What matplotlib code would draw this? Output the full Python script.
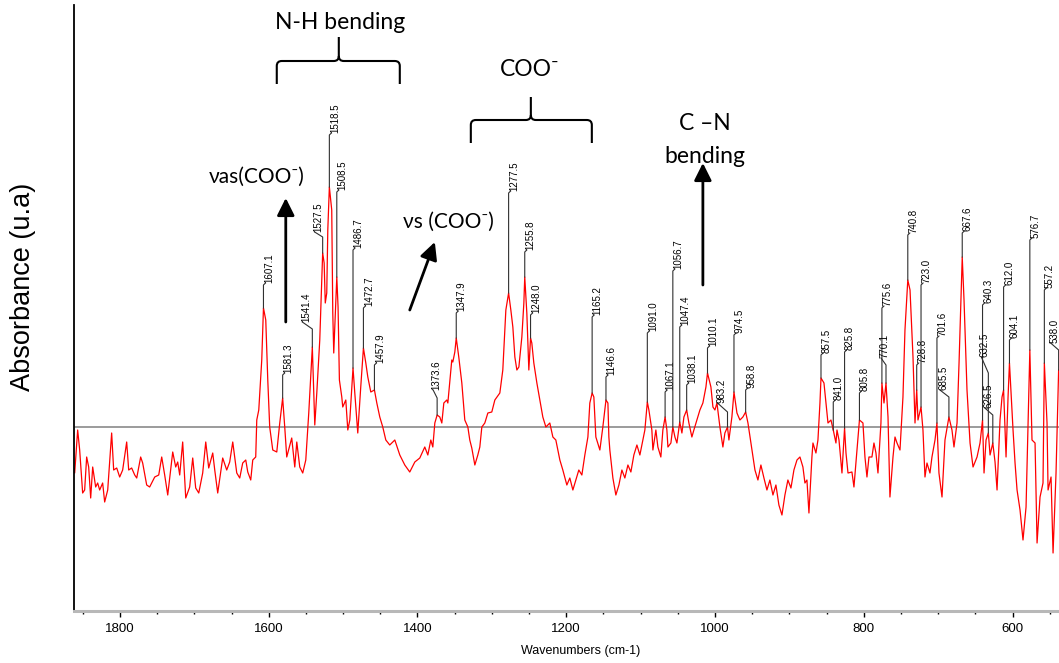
import matplotlib
matplotlib.use("Agg")
import matplotlib.pyplot as plt
import numpy as np
from matplotlib.path import Path
from matplotlib.patches import PathPatch
from matplotlib.ticker import MultipleLocator

plt.rcParams['font.family'] = ['Liberation Sans', 'DejaVu Sans']

# IR spectrum (cm-1, arbitrary absorbance, baseline = 0)
wavenumber = [
    1862.3, 1860.9, 1856.9, 1854.2, 1850.2, 1847.5, 1844.8, 1842.1, 1839.4, 1836.7,
    1832.7, 1830.0, 1827.3, 1823.3, 1820.6, 1816.5, 1811.2, 1808.5, 1804.4, 1800.4,
    1796.4, 1791.0, 1788.3, 1784.3, 1780.2, 1777.5, 1772.2, 1769.5, 1764.1, 1760.1,
    1753.3, 1747.9, 1743.9, 1739.9, 1735.8, 1729.1, 1725.1, 1722.4, 1719.7, 1715.7,
    1711.6, 1706.3, 1702.2, 1698.2, 1694.1, 1688.8, 1684.7, 1680.7, 1675.3, 1672.6,
    1668.6, 1661.9, 1656.5, 1652.5, 1648.4, 1643.0, 1639.0, 1635.0, 1630.9, 1628.2,
    1624.2, 1621.5, 1617.5, 1616.1, 1613.4, 1609.4, 1607.1, 1604.0, 1601.3, 1598.7,
    1594.6, 1589.2, 1585.2, 1581.3, 1578.5, 1575.8, 1569.1, 1565.0, 1562.3, 1558.3,
    1554.3, 1550.2, 1546.2, 1541.4, 1538.1, 1535.4, 1531.4, 1527.5, 1525.5, 1524.0,
    1522.0, 1520.6, 1518.5, 1515.3, 1513.9, 1512.6, 1508.5, 1506.8, 1505.0, 1501.8,
    1500.5, 1496.4, 1493.7, 1491.0, 1486.7, 1484.3, 1480.3, 1476.3, 1472.7, 1469.5,
    1466.8, 1462.8, 1457.9, 1454.7, 1450.7, 1446.7, 1442.6, 1437.3, 1430.5, 1423.8,
    1417.1, 1410.4, 1403.6, 1396.9, 1390.2, 1386.1, 1382.1, 1379.4, 1376.7, 1373.6,
    1370.0, 1367.3, 1364.6, 1360.6, 1359.2, 1353.9, 1352.5, 1349.8, 1347.9, 1344.5,
    1340.4, 1336.4, 1332.3, 1329.7, 1327.0, 1322.9, 1318.9, 1316.2, 1313.5, 1309.5,
    1305.4, 1300.1, 1296.0, 1289.3, 1285.3, 1281.2, 1277.5, 1274.5, 1271.8, 1269.1,
    1266.4, 1263.7, 1259.7, 1257.0, 1255.8, 1253.0, 1250.3, 1248.0, 1246.3, 1243.6,
    1239.5, 1235.5, 1231.5, 1227.4, 1222.1, 1218.0, 1214.0, 1211.3, 1208.6, 1204.6,
    1199.2, 1195.2, 1191.1, 1187.1, 1183.1, 1179.0, 1175.0, 1170.9, 1168.3, 1165.2,
    1162.9, 1160.2, 1154.8, 1150.8, 1146.6, 1144.0, 1142.7, 1141.4, 1137.3, 1133.3,
    1129.2, 1125.2, 1121.2, 1117.1, 1113.1, 1109.1, 1105.0, 1101.0, 1097.0, 1094.3,
    1091.0, 1088.9, 1084.9, 1083.5, 1079.5, 1076.8, 1072.8, 1070.1, 1067.1, 1064.7,
    1063.3, 1059.3, 1056.7, 1053.9, 1051.2, 1047.4, 1044.5, 1041.8, 1038.1, 1035.1,
    1031.1, 1028.4, 1024.3, 1020.3, 1016.3, 1012.2, 1010.1, 1005.5, 1002.8, 1000.1,
    997.4, 993.4, 989.4, 986.7, 983.2, 981.3, 977.3, 974.5, 970.5, 966.5,
    962.5, 958.8, 955.7, 951.7, 949.0, 946.3, 942.3, 938.3, 934.2, 930.2,
    926.2, 922.1, 918.1, 914.1, 910.0, 906.0, 902.0, 897.9, 893.9, 889.8,
    885.8, 881.8, 879.1, 876.4, 873.7, 869.7, 868.3, 864.3, 861.6, 858.9,
    857.5, 853.5, 850.8, 848.1, 844.1, 841.0, 837.4, 836.0, 833.3, 829.3,
    825.8, 823.9, 821.2, 815.9, 813.2, 809.1, 805.8, 801.1, 798.4, 795.7,
    793.0, 789.0, 786.3, 783.6, 780.9, 776.9, 775.6, 772.8, 770.1, 767.4,
    764.8, 760.7, 758.0, 755.3, 751.3, 747.3, 744.6, 740.8, 737.8, 733.8,
    731.1, 728.8, 727.1, 723.0, 720.4, 717.7, 715.0, 711.0, 708.3, 704.2,
    701.6, 698.9, 694.8, 690.8, 685.5, 681.4, 678.7, 674.6, 671.9, 669.2,
    667.6, 665.2, 661.2, 657.1, 653.1, 647.7, 643.7, 640.3, 638.3, 635.6,
    632.5, 630.2, 626.5, 623.5, 620.8, 616.8, 614.1, 612.0, 608.7, 606.0,
    604.1, 599.3, 596.6, 593.9, 589.9, 585.9, 581.8, 576.7, 573.8, 569.7,
    567.0, 563.0, 559.0, 557.2, 553.6, 552.2, 548.2, 545.5, 541.5, 538.0,
]
absorbance = [
    -0.41, -0.46, -0.03, -0.23, -0.66, -0.63, -0.30, -0.40, -0.71, -0.40,
    -0.60, -0.56, -0.63, -0.56, -0.75, -0.63, -0.06, -0.43, -0.41, -0.50,
    -0.43, -0.15, -0.43, -0.41, -0.48, -0.51, -0.30, -0.36, -0.58, -0.60,
    -0.50, -0.48, -0.30, -0.48, -0.68, -0.25, -0.40, -0.35, -0.48, -0.15,
    -0.71, -0.60, -0.31, -0.61, -0.66, -0.46, -0.15, -0.41, -0.26, -0.43,
    -0.66, -0.31, -0.43, -0.35, -0.15, -0.46, -0.51, -0.36, -0.33, -0.45,
    -0.53, -0.33, -0.30, 0.07, 0.17, 0.67, 1.19, 1.07, 0.47, 0.00,
    -0.23, -0.25, 0.04, 0.29, 0.00, -0.30, -0.11, -0.40, -0.15, -0.40,
    -0.46, -0.33, 0.14, 0.80, 0.02, 0.34, 0.87, 1.74, 1.64, 1.24,
    1.34, 1.97, 2.40, 2.17, 1.14, 0.74, 1.50, 1.20, 0.47, 0.30,
    0.20, 0.27, -0.03, 0.07, 0.59, 0.34, -0.06, 0.40, 0.79, 0.64,
    0.50, 0.35, 0.37, 0.24, 0.10, 0.00, -0.13, -0.18, -0.13, -0.28,
    -0.38, -0.45, -0.35, -0.31, -0.20, -0.28, -0.13, -0.20, 0.04, 0.12,
    0.10, 0.04, 0.24, 0.27, 0.24, 0.67, 0.65, 0.75, 0.89, 0.70,
    0.44, 0.07, 0.00, -0.13, -0.21, -0.38, -0.28, -0.20, 0.00, 0.04,
    0.14, 0.15, 0.27, 0.34, 0.57, 1.17, 1.34, 1.17, 1.00, 0.70,
    0.57, 0.60, 0.90, 1.24, 1.50, 1.14, 0.57, 0.89, 0.84, 0.64,
    0.44, 0.27, 0.10, 0.00, 0.04, -0.10, -0.13, -0.23, -0.33, -0.43,
    -0.58, -0.51, -0.63, -0.53, -0.43, -0.48, -0.28, -0.10, 0.24, 0.34,
    0.30, -0.10, -0.23, 0.00, 0.27, 0.24, -0.10, -0.23, -0.51, -0.68,
    -0.58, -0.43, -0.51, -0.38, -0.45, -0.28, -0.18, -0.28, -0.13, -0.03,
    0.25, 0.17, -0.03, -0.23, -0.03, -0.20, -0.30, -0.03, 0.10, -0.03,
    -0.20, -0.16, 0.00, -0.10, -0.16, 0.05, -0.06, 0.10, 0.17, 0.04,
    -0.10, -0.03, 0.07, 0.17, 0.24, 0.40, 0.54, 0.40, 0.20, 0.17,
    0.24, 0.00, -0.20, -0.06, 0.00, -0.13, 0.10, 0.35, 0.14, 0.07,
    0.10, 0.15, 0.04, -0.16, -0.30, -0.43, -0.53, -0.38, -0.51, -0.63,
    -0.53, -0.68, -0.58, -0.78, -0.88, -0.68, -0.53, -0.61, -0.43, -0.33,
    -0.30, -0.40, -0.56, -0.53, -0.86, -0.30, -0.16, -0.26, -0.13, 0.24,
    0.49, 0.44, 0.24, 0.04, 0.07, -0.03, -0.16, -0.03, -0.13, -0.46,
    -0.01, -0.26, -0.46, -0.45, -0.60, -0.23, 0.07, 0.04, -0.30, -0.50,
    -0.30, -0.30, -0.16, -0.26, -0.46, 0.04, 0.44, 0.24, 0.44, 0.10,
    -0.70, -0.30, -0.10, -0.16, -0.23, 0.30, 0.97, 1.47, 1.37, 0.70,
    0.04, 0.37, 0.07, 0.20, -0.03, -0.50, -0.36, -0.46, -0.30, -0.13,
    0.04, -0.46, -0.70, -0.13, 0.10, -0.03, -0.20, 0.04, 0.64, 1.30,
    1.70, 1.27, 0.37, -0.16, -0.40, -0.30, -0.16, 0.07, -0.46, -0.13,
    -0.06, -0.28, -0.16, -0.35, -0.63, 0.07, 0.30, 0.37, -0.30, 0.30,
    0.64, -0.03, -0.36, -0.63, -0.83, -1.13, -0.80, 0.77, -0.13, -0.16,
    -1.16, -0.70, -0.56, 0.64, 0.04, -0.63, -0.50, -1.26, -0.46, 0.57,
]

# labelled peaks
peak_wn = [1607.1, 1581.3, 1541.4, 1527.5, 1518.5, 1508.5, 1486.7, 1472.7, 1457.9,
           1373.6, 1347.9, 1277.5, 1255.8, 1248.0, 1165.2, 1146.6, 1091.0, 1067.1,
           1056.7, 1047.4, 1038.1, 1010.1, 983.2, 974.5, 958.8, 857.5, 841.0, 825.8,
           805.8, 775.6, 770.1, 740.8, 728.8, 723.0, 701.6, 685.5, 667.6, 640.3,
           632.5, 626.5, 612.0, 604.1, 576.7, 557.2, 538.0]

# layout of the peak labels: leader length (absorbance units), end shift / rise (px)
leader_len = [0.23, 0.23, 0.18, 0.16, 0.52, 0.85, 1.18, 0.40, 0.25, 0.17, 0.25, 1.00,
              0.25, 0.23, 0.76, 0.23, 0.69, 0.25, 1.56, 0.95, 0.25, 0.25, 0.15, 0.57,
              0.22, 0.23, 0.28, 0.76, 0.27, 0.75, 0.18, 0.45, 0.25, 1.22, 0.85, 0.20,
              0.24, 1.15, 0.60, 0.28, 1.03, 0.23, 1.10, 0.73, 0.20]
label_shift = [2, 2, -10, -8, 2, 2, 2, 2, 2, -4, 2, 2, 2, 2, 2, 2, 2, 2, 2, 2, 2, 2,
               -10, 2, 2, 2, 2, 2, 2, 2, -5, 2, 2, 2, 2, -9, 2, 2, -7, -8, 2, 2, 2, 2, -8]
label_rise = [2, 2, 7, 5, 2, 2, 2, 2, 2, 8, 2, 2, 2, 2, 2, 2, 2, 2, 2, 2, 2, 2,
              9, 2, 2, 2, 2, 2, 2, 2, 7, 2, 2, 2, 2, 7, 2, 2, 16, 7, 2, 2, 2, 2, 7]

W, H = 1059, 663
AX_LEFT, AX_BOTTOM, AX_TOP = 73.5, 610.7, 5.0
XMIN, XMAX = 1862.5, 537.5
YMIN, YMAX = -1.837, 4.22

fig = plt.figure(figsize=(W / 100, H / 100), dpi=100)
ax = fig.add_axes([AX_LEFT / W, (H - AX_BOTTOM) / H, (W - AX_LEFT) / W,
                   (AX_BOTTOM - AX_TOP) / H])
ax.set_xlim(XMIN, XMAX)
ax.set_ylim(YMIN, YMAX)

# data units per pixel
px_x = (XMIN - XMAX) / (W - AX_LEFT)
px_y = (YMAX - YMIN) / (AX_BOTTOM - AX_TOP)

ax.axhline(0, color='#808080', lw=1.1, zorder=1)
ax.plot(wavenumber, absorbance, color='#ff0000', lw=0.9, zorder=2)

# peak labels with leader lines
wn_inc = np.array(wavenumber[::-1])
ab_inc = np.array(absorbance[::-1])
for wn, L, s, r in zip(peak_wn, leader_len, label_shift, label_rise):
    y0 = np.interp(wn, wn_inc, ab_inc)
    y1 = y0 + L
    xe = wn - s * px_x
    ye = y1 + r * px_y
    ax.plot([wn, wn, xe], [y0, y1, ye], color='#303030', lw=0.8, zorder=3)
    ax.text(xe + 1.5 * px_x, ye, f"{wn:.1f}", rotation=90, ha='left', va='bottom',
            fontsize=7, color='black')

# spines and ticks
for side in ('top', 'right'):
    ax.spines[side].set_visible(False)
ax.spines['left'].set_color('black')
ax.spines['left'].set_linewidth(1.3)
ax.spines['bottom'].set_color('#b8b8b8')
ax.spines['bottom'].set_linewidth(2.2)
ax.set_yticks([])
ax.set_xticks(np.arange(1800, 500, -200))
ax.xaxis.set_minor_locator(MultipleLocator(50))
ax.tick_params(axis='x', which='major', length=4.5, width=1, color='black',
               labelsize=9.5, pad=4.5)
ax.tick_params(axis='x', which='minor', length=2.5, width=1, color='black')

fig.text(581 / W, 1 - 651 / H, "Wavenumbers (cm-1)", ha='center', va='center', fontsize=9)
fig.text(23 / W, 1 - 287 / H, "Absorbance (u.a)", rotation=90, ha='center',
         va='center', fontsize=19.5)


def brace(x_left, x_right, x_mid, y_bar, y_end, y_tip):
    rx, ry = 5 * px_x, 5 * px_y
    verts = [(x_left, y_end), (x_left, y_bar - ry), (x_left, y_bar), (x_left - rx, y_bar),
             (x_mid + rx, y_bar), (x_mid, y_bar), (x_mid, y_bar + ry), (x_mid, y_tip),
             (x_mid, y_bar + ry), (x_mid, y_bar), (x_mid - rx, y_bar),
             (x_right + rx, y_bar), (x_right, y_bar), (x_right, y_bar - ry), (x_right, y_end)]
    codes = [Path.MOVETO, Path.LINETO, Path.CURVE3, Path.CURVE3,
             Path.LINETO, Path.CURVE3, Path.CURVE3, Path.LINETO,
             Path.MOVETO, Path.CURVE3, Path.CURVE3,
             Path.LINETO, Path.CURVE3, Path.CURVE3, Path.LINETO]
    ax.add_patch(PathPatch(Path(verts, codes), fill=False, lw=1.5, color='black',
                           clip_on=False))


ann_font = ['Lato', 'DejaVu Sans']
brace(1589.2, 1423.8, 1505.8, 3.66, 3.43, 3.90)
brace(1328.3, 1165.6, 1247.6, 3.07, 2.84, 3.30)
ax.text(1504.5, 4.04, "N-H bending", ha='center', va='center', fontsize=16.5,
        family=ann_font)
ax.text(1248.9, 3.57, "COO\u207b", ha='center', va='center', fontsize=16.5,
        family=ann_font)
ax.text(1616.1, 2.50, "\u03bdas(COO\u207b)", ha='center', va='center', fontsize=15,
        family=ann_font)
ax.text(1357.9, 2.05, "\u03bds (COO\u207b)", ha='center', va='center', fontsize=15,
        family=ann_font)
ax.text(1013.6, 3.03, "C \u2013N", ha='center', va='center', fontsize=16.5,
        family=ann_font)
ax.text(1013.6, 2.70, "bending", ha='center', va='center', fontsize=16.5,
        family=ann_font)

arrow = dict(arrowstyle='-|>,head_length=0.7,head_width=0.35', lw=2, color='black',
             mutation_scale=15, shrinkA=0, shrinkB=0)
ax.annotate("", xy=(1577.1, 2.29), xytext=(1577.1, 1.05), arrowprops=arrow)
ax.annotate("", xy=(1376.7, 1.85), xytext=(1410.4, 1.17), arrowprops=arrow)
ax.annotate("", xy=(1016.3, 2.64), xytext=(1016.3, 1.42), arrowprops=arrow)

fig.savefig("out.png", dpi=100)
